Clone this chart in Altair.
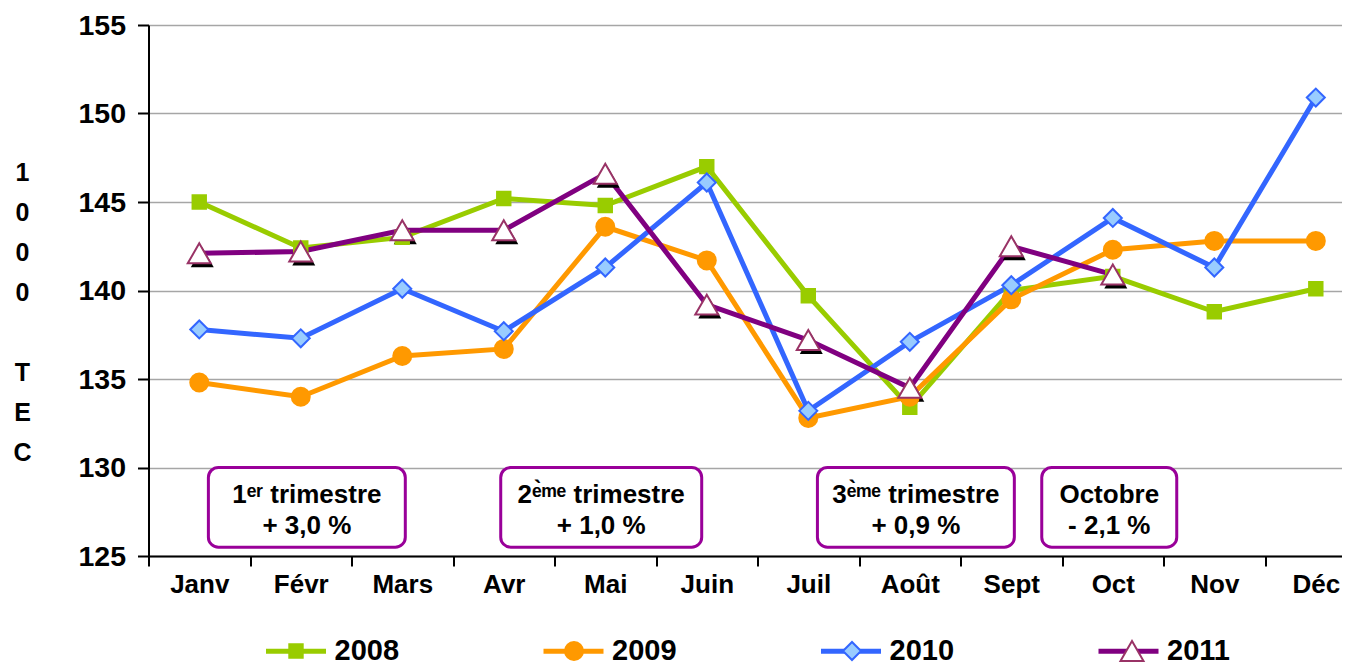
import json
import altair as alt
import pandas as pd

# ---------------- data ----------------
months = ["Janv", "Févr", "Mars", "Avr", "Mai", "Juin", "Juil", "Août", "Sept", "Oct", "Nov", "Déc"]
years = ["2008", "2009", "2010", "2011"]
v2008 = [145.0, 142.4, 143.0, 145.2, 144.8, 147.0, 139.7, 133.4, 140.0, 140.8, 138.8, 140.1]
v2009 = [134.8, 134.0, 136.3, 136.7, 143.6, 141.7, 132.8, 134.0, 139.5, 142.3, 142.8, 142.8]
v2010 = [137.8, 137.3, 140.1, 137.7, 141.3, 146.1, 133.2, 137.1, 140.3, 144.1, 141.3, 150.9]
v2011 = [142.1, 142.2, 143.4, 143.4, 146.6, 139.2, 137.2, 134.5, 142.5, 140.9]
y_ticks = [125, 130, 135, 140, 145, 150, 155]

box_line1 = ["1\u1d49\u02b3 trimestre", "2\u1d49\u0300\u1d50\u1d49 trimestre",
             "3\u1d49\u0300\u1d50\u1d49 trimestre", "Octobre"]
box_line2 = ["+ 3,0 %", "+ 1,0 %", "+ 0,9 %", "- 2,1 %"]
box_x1 = [0.09, 2.97, 6.09, 8.30]
box_x2 = [2.03, 4.95, 8.03, 9.63]
box_top, box_bottom = 130.0, 125.5
line1_y, line2_y = 128.45, 126.7

colors_line = ["#99cc00", "#ff9900", "#3366ff", "#800080"]
colors_fill = ["#99cc00", "#ff9900", "#99ccff", "#ffffff"]
colors_stroke = ["#99cc00", "#ff9900", "#3366ff", "#993366"]
shapes = ["square", "circle", "diamond", "triangle-up"]
sizes = [180, 324, 324, 529]

# ---------------- tables ----------------
rows = []
for yr, vals in zip(years, [v2008, v2009, v2010, v2011]):
    for i, v in enumerate(vals):
        rows.append({"year": yr, "year2": yr, "m": i, "v": v})
df = pd.DataFrame(rows)

boxes = pd.DataFrame({
    "x1": box_x1, "x2": box_x2,
    "xc": [(a + b) / 2 for a, b in zip(box_x1, box_x2)],
    "t1": box_line1, "t2": box_line2,
})
boxes["top"] = box_top
boxes["bottom"] = box_bottom
boxes["l1"] = line1_y
boxes["l2"] = line2_y

FONT = "Liberation Sans"

xvals = [i / 2 for i in range(-1, 23)]
month_js = json.dumps(months, ensure_ascii=False)

xscale = alt.Scale(domain=[-0.5, 11.258], nice=False, zero=False)
yscale = alt.Scale(domain=[125, 155], nice=False, zero=False)

xaxis = alt.Axis(
    values=xvals,
    labelExpr=f"datum.value % 1 === 0 ? {month_js}[datum.value] : ''",
    tickOpacity={"condition": {"test": "datum.value % 1 === 0", "value": 0}, "value": 1},
    grid=False, domainColor="black", domainWidth=2, tickColor="black", tickWidth=2,
    tickSize=10, labelFontSize=26, labelFont=FONT, labelFontWeight="bold",
    labelColor="black", labelPadding=5, labelOverlap=False, labelFlush=False,
    labelBound=False, title=None,
)
yaxis = alt.Axis(
    values=y_ticks, grid=True, gridColor="#a6a6a6", gridWidth=1.5,
    domainColor="black", domainWidth=2, tickColor="black", tickWidth=2, tickSize=11,
    labelFontSize=28.5, labelFont=FONT, labelFontWeight="bold", labelColor="black",
    labelPadding=12, labelOverlap=False, labelFlush=False,
    title=["1", "0", "0", "0", "\u200b", "T", "E", "C"], titleAngle=0, titleX=-126.5,
    titleY=147, titleAlign="center", titleBaseline="middle", titleLineHeight=40,
    titleFontSize=25, titleFont=FONT, titleFontWeight="bold", titleColor="black",
)

X = alt.X("m:Q", scale=xscale, axis=xaxis)
Y = alt.Y("v:Q", scale=yscale, axis=yaxis)

leg1 = alt.Legend(
    orient="none", legendX=115, legendY=593.5, direction="horizontal", columns=4,
    title=None, symbolType="stroke", symbolSize=3600, symbolStrokeWidth=5,
    labelFontSize=29, labelFont=FONT, labelFontWeight="bold", labelColor="black",
    labelOffset=6, columnPadding=133.5, padding=0, zindex=0,
)
leg2 = alt.Legend(
    orient="none", legendX=133.5, legendY=612, direction="horizontal", columns=4,
    title=None, symbolStrokeWidth=2, labelExpr="''",
    labelFontSize=28, labelOffset=0, columnPadding=250, padding=0, zindex=1,
)

lines = alt.Chart(df).mark_line(strokeWidth=5).encode(
    x=X, y=Y,
    color=alt.Color("year:N", scale=alt.Scale(range=colors_line), legend=leg1),
    order="m:Q",
)

shadow = alt.Chart(df).transform_filter("datum.year == '2011'").mark_point(
    shape="triangle-up", filled=True, color="black", size=529, opacity=1,
    xOffset=3, yOffset=4,
).encode(x=X, y=Y)

points = alt.Chart(df).mark_point(filled=True, opacity=1, strokeWidth=2).encode(
    x=X, y=Y,
    shape=alt.Shape("year2:N", scale=alt.Scale(range=shapes), legend=leg2),
    fill=alt.Fill("year2:N", scale=alt.Scale(range=colors_fill), legend=leg2),
    stroke=alt.Stroke("year2:N", scale=alt.Scale(range=colors_stroke), legend=leg2),
    size=alt.Size("year2:N", scale=alt.Scale(type="ordinal", range=sizes), legend=leg2),
)

rects = alt.Chart(boxes).mark_rect(
    fill="white", stroke="#990099", strokeWidth=3, cornerRadius=10
).encode(
    x=alt.X("x1:Q", scale=xscale), x2="x2:Q",
    y=alt.Y("top:Q", scale=yscale), y2="bottom:Q",
)

txt_kw = dict(font=FONT, fontSize=26, fontWeight="bold", color="black",
              align="center", baseline="middle")
text1 = alt.Chart(boxes).mark_text(**txt_kw).encode(
    x=alt.X("xc:Q", scale=xscale), y=alt.Y("l1:Q", scale=yscale), text="t1:N")
text2 = alt.Chart(boxes).mark_text(**txt_kw).encode(
    x=alt.X("xc:Q", scale=xscale), y=alt.Y("l2:Q", scale=yscale), text="t2:N")

chart = alt.layer(lines, shadow, points, rects, text1, text2).properties(
    width=1193.5, height=531,
    autosize=alt.AutoSizeParams(type="none"),
    padding={"left": 140.5, "top": 17, "right": 0, "bottom": 111},
    background="white",
).configure_view(strokeWidth=0)

chart.save("out.html", embed_options={"renderer": "svg", "actions": False})
